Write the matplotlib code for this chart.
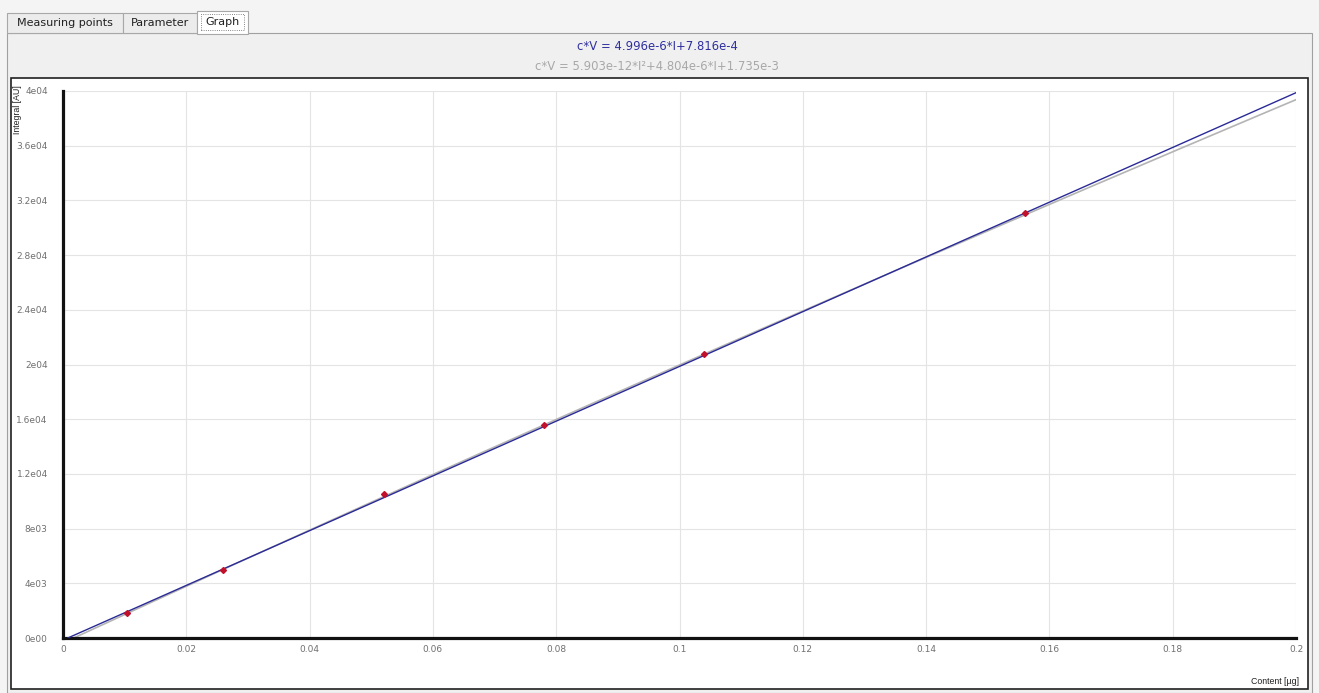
import matplotlib
matplotlib.use("Agg")
import matplotlib.pyplot as plt
import numpy as np
from matplotlib.patches import Rectangle

# measured calibration points
content = [0.0104, 0.026, 0.052, 0.078, 0.104, 0.156]
integral = [1830, 4970, 10500, 15580, 20800, 31050]

# fit coefficients shown in the header (c*V as function of I)
lin_coef = [4.996e-6, 7.816e-4]
quad_coef = [5.903e-12, 4.804e-6, 1.735e-3]

x_ticks = [0, 0.02, 0.04, 0.06, 0.08, 0.1, 0.12, 0.14, 0.16, 0.18, 0.2]
x_ticklabels = ["0", "0.02", "0.04", "0.06", "0.08", "0.1", "0.12", "0.14", "0.16", "0.18", "0.2"]
y_ticks = [0, 4000, 8000, 12000, 16000, 20000, 24000, 28000, 32000, 36000, 40000]
y_ticklabels = ["0e00", "4e03", "8e03", "1.2e04", "1.6e04", "2e04", "2.4e04", "2.8e04", "3.2e04", "3.6e04", "4e04"]

tabs = ["Measuring points", "Parameter", "Graph"]
lin_label = "c*V = 4.996e-6*I+7.816e-4"
quad_label = "c*V = 5.903e-12*I\u00b2+4.804e-6*I+1.735e-3"

W, H = 1319, 693
fig = plt.figure(figsize=(W / 100, H / 100), dpi=100)
fig.patch.set_facecolor("#f4f4f4")


def box(x, y, w, h, fc, ec="none", lw=1.0, ls="-"):
    # pixel coords, top-left origin
    r = Rectangle((x / W, 1 - (y + h) / H), w / W, h / H, transform=fig.transFigure,
                  facecolor=fc, edgecolor=ec, linewidth=lw, linestyle=ls, zorder=-5)
    fig.patches.append(r)


def ftext(x, y, s, **kw):
    fig.text(x / W, 1 - y / H, s, **kw)


# panel under the tabs
box(7, 33, 1305, 660, "#f0f0f0", "#a0a0a0", 0.8)
# tabs
box(7, 13, 116, 20, "#ececec", "#a8a8a8", 0.8)
box(123, 13, 74, 20, "#ececec", "#a8a8a8", 0.8)
box(197, 11, 51, 23, "#ffffff", "#a8a8a8", 0.8)
box(201, 14, 43, 16, "none", "#606060", 0.6, ":")
ftext(65, 23, tabs[0], ha="center", va="center", fontsize=8, color="#202020")
ftext(160, 23, tabs[1], ha="center", va="center", fontsize=8, color="#202020")
ftext(222, 22, tabs[2], ha="center", va="center", fontsize=8, color="#202020")

# formulas
ftext(657, 46, lin_label, ha="center", va="center", fontsize=8.4, color="#2e2ea0")
ftext(657, 66, quad_label, ha="center", va="center", fontsize=8.4, color="#a8a8a8")

# white plot box
box(11, 78, 1297, 611, "#ffffff", "#202020", 1.2)

ax = fig.add_axes([63 / W, 1 - 638 / H, 1233 / W, 547 / H])
ax.set_facecolor("none")
ax.set_zorder(1)

I = np.linspace(0, 40000, 400)
ax.plot(np.polyval(quad_coef, I), I, color="#b4b4b4", linewidth=1.2, zorder=2)
ax.plot(np.polyval(lin_coef, I), I, color="#2a2a96", linewidth=1.0, zorder=3)
ax.plot(content, integral, linestyle="none", marker="D", markersize=3,
        color="#c0102a", zorder=4)

ax.set_xlim(0, 0.2)
ax.set_ylim(0, 40000)
ax.set_xticks(x_ticks)
ax.set_xticklabels(x_ticklabels)
ax.set_yticks(y_ticks)
ax.set_yticklabels(y_ticklabels)
ax.tick_params(axis="both", length=0, labelsize=6.5, labelcolor="#707070")
ax.tick_params(axis="y", pad=11)
ax.tick_params(axis="x", pad=5)
ax.grid(True, color="#e4e4e4", linewidth=0.8)
ax.set_axisbelow(True)
for s in ["top", "right"]:
    ax.spines[s].set_visible(False)
for s in ["left", "bottom"]:
    ax.spines[s].set_linewidth(2.3)
    ax.spines[s].set_color("#111111")

ftext(18, 85, "Integral [AU]", rotation=90, ha="center", va="top",
      fontsize=6.3, color="#202020", family="Liberation Sans")
ftext(1299, 682, "Content [\u00b5g]", ha="right", va="center",
      fontsize=6.3, color="#202020", family="Liberation Sans")

fig.savefig("out.png", dpi=100, facecolor=fig.get_facecolor())
